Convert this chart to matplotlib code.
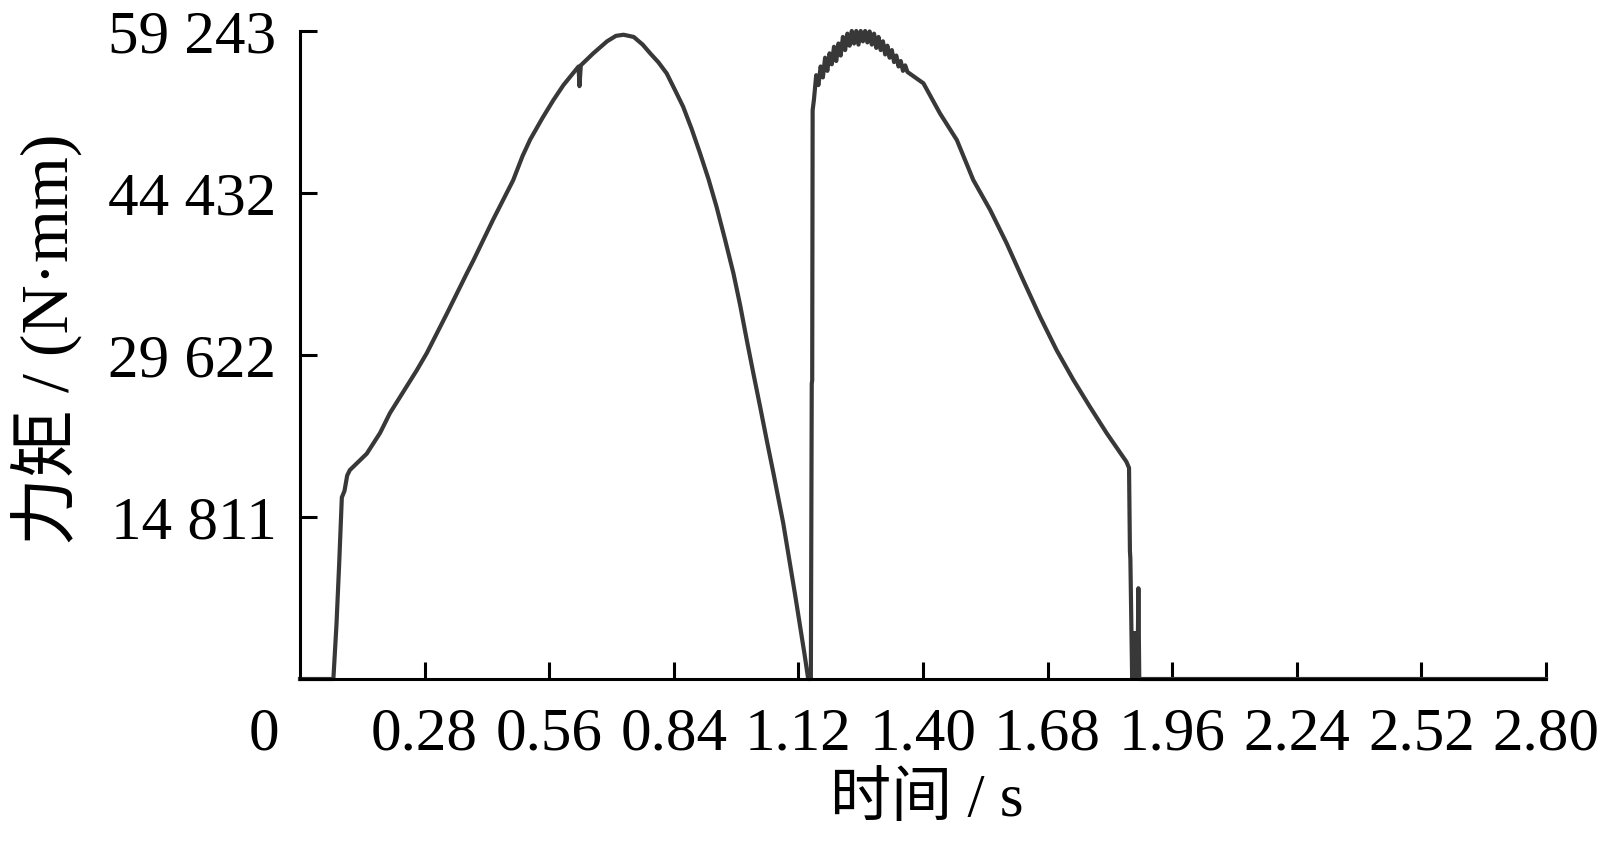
import matplotlib
matplotlib.use("Agg")
import matplotlib.pyplot as plt

plt.rcParams['font.family'] = ['Liberation Serif', 'Noto Sans CJK SC']

# 时间 (s) 与 力矩 (N·mm)
t = [0.000, 0.075, 0.082, 0.088, 0.094, 0.100, 0.106, 0.112, 0.135, 0.150,
     0.180, 0.202, 0.225, 0.262, 0.285, 0.300, 0.330, 0.375, 0.390, 0.434,
     0.449, 0.479, 0.500, 0.517, 0.545, 0.569, 0.592, 0.614, 0.626, 0.628,
     0.631, 0.659, 0.690, 0.710, 0.727, 0.750, 0.770, 0.787, 0.805, 0.824,
     0.842, 0.861, 0.880, 0.899, 0.918, 0.936, 0.955, 0.974, 0.989, 1.004,
     1.019, 1.034, 1.049, 1.064, 1.076, 1.086, 1.101, 1.113, 1.124, 1.134,
     1.142, 1.148, 1.150, 1.151, 1.152,
     1.155, 1.160, 1.165, 1.170, 1.175, 1.180, 1.185, 1.190, 1.195, 1.200,
     1.205, 1.210, 1.215, 1.220, 1.225, 1.230, 1.235, 1.240, 1.245, 1.250,
     1.255, 1.260, 1.265, 1.270, 1.275, 1.280, 1.285, 1.290, 1.295, 1.300,
     1.305, 1.310, 1.315, 1.320, 1.325, 1.330, 1.335, 1.340, 1.345, 1.350,
     1.355, 1.360, 1.365,
     1.401, 1.438, 1.476, 1.513, 1.551, 1.588, 1.625, 1.663, 1.700, 1.738,
     1.775, 1.813, 1.857, 1.863, 1.865, 1.866, 1.870, 1.873, 1.875, 1.878,
     1.880, 1.883, 1.884, 1.886, 2.800]
torque = [0, 0, 5000, 10500, 16600, 17200, 18600, 19100, 20000, 20600,
          22500, 24300, 25800, 28200, 29800, 31000, 33400, 37100, 38300, 42000,
          43200, 45600, 47800, 49300, 51300, 52900, 54300, 55400, 56000, 54200,
          56100, 57200, 58300, 58800, 58900, 58700, 58000, 57200, 56400, 55370,
          53900, 52320, 50300, 48060, 45700, 43180, 40200, 37090, 34200, 30990,
          27900, 24890, 21800, 18800, 16300, 14230, 10530, 7600, 4790, 2200,
          0, 0, 27000, 27300, 52000,
          53000, 55200, 54300, 56000, 55000, 56800, 55600, 57200, 56200, 57800,
          56500, 58100, 57000, 58700, 57500, 59000, 57900, 59243, 58100, 59243,
          58000, 59243, 58300, 59243, 58200, 59200, 58000, 59000, 57700, 58700,
          57500, 58300, 57100, 57900, 56800, 57500, 56400, 57000, 56000, 56500,
          55600, 56100, 55500,
          54460, 51720, 49280, 45620, 42880, 39830, 36480, 33120, 30080, 27340,
          24890, 22460, 19870, 19300, 11700, 11000, 0, 4200, 0, 4200,
          0, 4200, 8300, 0, 0]

xticks = [0.28, 0.56, 0.84, 1.12, 1.40, 1.68, 1.96, 2.24, 2.52, 2.80]
yticks = [14811, 29622, 44432, 59243]
ytick_labels = ['14 811', '29 622', '44 432', '59 243']

fig = plt.figure(figsize=(16.04, 8.49), dpi=100)
ax = fig.add_axes([300/1604, 170/849, 1246/1604, 648/849])

ax.plot(t, torque, color='#383838', linewidth=3.0, clip_on=False)

ax.set_xlim(0, 2.80)
ax.set_ylim(0, 59243)
ax.set_xticks(xticks)
ax.set_xticklabels([f'{v:.2f}' for v in xticks])
ax.set_yticks(yticks)
ax.set_yticklabels(ytick_labels)

for s in ['top', 'right']:
    ax.spines[s].set_visible(False)
for s in ['left', 'bottom']:
    ax.spines[s].set_linewidth(2.2)

ax.tick_params(axis='both', direction='in', length=12, width=2.2, labelsize=44)
ax.tick_params(axis='x', pad=20)
ax.tick_params(axis='y', pad=17)

# 原点处的 "0"
ax.annotate('0', xy=(0, 0), xycoords='data', xytext=(-36, -56),
            textcoords='offset pixels', ha='center', va='center', fontsize=44)

ax.set_xlabel('时间 / s', fontsize=44)
ax.xaxis.set_label_coords(0.503, -0.145)
ax.set_ylabel('力矩 / (N·mm)', fontsize=49)
ax.yaxis.set_label_coords(-0.175, 0.525)

fig.savefig('out.png', dpi=100)
